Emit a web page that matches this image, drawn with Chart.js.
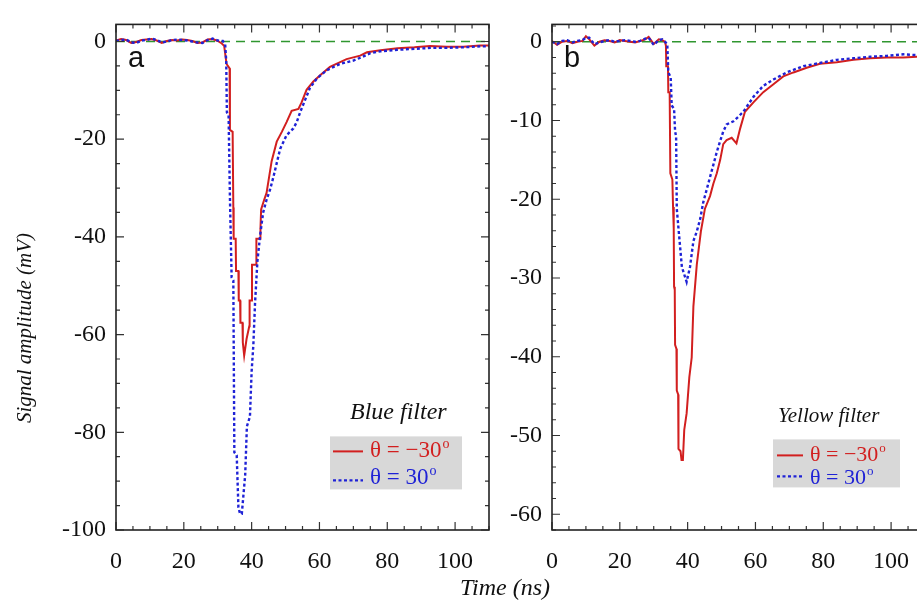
<!DOCTYPE html>
<html>
<head>
<meta charset="utf-8">
<script src="https://cdn.jsdelivr.net/npm/chart.js@4.4.1/dist/chart.umd.min.js"></script>
<style>
  body { margin: 0; width: 917px; height: 604px; overflow: hidden; background: #fff; position: relative; }
  .panel { position: absolute; top: 0; height: 604px; }
  #xTitle { position: absolute; left: 405px; top: 574px; width: 200px; text-align: center;
            font: italic 24px "Liberation Serif", "Times New Roman", serif; color: #111; }
</style>
</head>
<body>
<div class="panel" style="left:0;width:500px"><canvas id="chartA"></canvas></div>
<div class="panel" style="left:500px;width:440px"><canvas id="chartB"></canvas></div>
<div id="xTitle">Time (ns)</div>
<script>
// ---- data ----
const timeTicks = [0, 20, 40, 60, 80, 100];
const ampTicksA = [0, -20, -40, -60, -80, -100];
const ampTicksB = [0, -10, -20, -30, -40, -50, -60];
const seriesNames = ['θ = −30', 'θ = 30'];
const zeroT = [0, 110];
const zeroV = [0, 0];

// panel a, blue filter, theta = -30
const aRedT = [0,1.5,3,4.5,6,7.5,9,10.5,12,13.5,15,16.5,18,19.5,21,22.5,24,25.5,27,28.5,30,
  31.2,31.9,32.6,33.5,33.6,34.4,34.6,34.7,35.3,35.4,36.1,36.2,36.6,36.7,37.3,37.4,37.8,
  38.5,39.3,39.4,40,40.1,41.3,41.4,42.5,42.6,42.8,43.7,44.4,
  45.9,47.4,48.9,50.3,51.8,53.8,54.7,56.2,58.2,60.2,63.1,68,72,74,78,83,88,92.6,97.5,102.4,107.4,110];
const aRedV = [0.2,0.5,0.3,-0.3,-0.1,0.3,0.4,0.5,0.2,-0.3,0.1,0.3,0.2,0.4,0.3,0.1,-0.3,-0.2,0.4,0.5,0.1,
  -0.4,-0.9,-4.6,-5.5,-18.1,-18.5,-34,-40.4,-40.4,-47,-47,-53,-53,-57.6,-57.6,-61.6,-64.3,
  -60.9,-58.3,-53,-53,-45.7,-45.7,-40.4,-40.4,-38.4,-34.4,-32.4,-31,
  -24.5,-20.5,-18.5,-16.5,-14.2,-13.8,-12.5,-9.9,-8.2,-6.9,-5.2,-3.6,-2.9,-2.2,-1.8,-1.4,-1.2,-0.9,-1.1,-1.1,-0.8,-0.8];

// panel a, blue filter, theta = 30
const aBlueT = [0,1.5,3,4.5,6,7.5,9,10.5,12,13.5,15,16.5,18,19.5,21,22.5,24,25.5,27,28.5,30,
  31.5,32.2,32.5,32.7,33.2,33.6,34.1,34.6,34.9,35.6,
  36.1,36.6,37.1,38.1,38.6,39.5,40,40.5,41,41.7,
  42.5,43.4,44.4,45.4,46.4,48.4,50.3,52.3,53.3,54.3,
  55.8,57.2,59.2,62.1,66,70,72.5,75,78,83,
  88,93,97.5,102,107.4,110];
const aBlueV = [0.1,0.3,0.4,-0.2,-0.3,0.2,0.3,0.6,0.3,-0.2,0,0.3,0.4,0.3,0.2,0,-0.2,-0.3,0.3,0.6,0.2,
  0.1,-0.6,-3.9,-14.5,-15,-32,-48.3,-48.9,-84.1,-84.7,
  -95.4,-96.7,-96.7,-88.7,-78.8,-76.8,-67.5,-62.2,-53.6,-45,
  -39.7,-35,-32.4,-30.4,-27.8,-22,-19.2,-17.8,-16.5,-14.5,
  -11.9,-9.5,-7.6,-5.9,-4.6,-3.9,-3.2,-2.4,-2,-1.7,
  -1.5,-1.3,-1.3,-1.2,-1,-1];

// panel b, yellow filter, theta = -30
const bRedT = [0,1.5,3,4.5,6,7.5,9,10,11,12.5,14,15.5,17,18.5,20,21.5,23,24.5,26,27.5,28.5,30,31.5,32.5,
  33.3,33.6,33.7,34.2,34.3,34.7,34.9,35.5,35.7,35.9,
  36,36.2,36.3,36.7,36.8,37.2,37.3,37.9,38.2,38.6,
  39,39.7,40.5,41.2,41.7,42.7,43.9,45.1,46.6,47.6,
  48.6,49.6,50.5,51.5,53,54.4,55.5,56.9,59.4,62.3,
  65.3,68.2,71.2,75.1,79,84,88.9,93.8,98.7,103.6,107.6,110];
const bRedV = [0.1,-0.4,0,0.1,-0.2,0,0.1,0.7,0.3,-0.5,0,0.2,0.1,-0.1,0.2,0.1,0,-0.1,0.1,0.3,0.6,-0.3,0.3,0.2,
  0,-0.5,-3.1,-3.1,-6.4,-6.4,-16.7,-17.5,-21,-23.7,
  -31.1,-31.5,-38.5,-39,-44.3,-44.8,-51.7,-52,-53.1,-53.1,
  -49.3,-47.2,-42.6,-40.1,-33.6,-28.3,-24.1,-21.2,-19.6,-18,
  -16.7,-15,-13,-12.5,-12.2,-12.9,-11,-8.9,-7.7,-6.4,
  -5.4,-4.4,-3.9,-3.3,-2.8,-2.6,-2.3,-2.1,-2,-2,-1.9,-1.9];

// panel b, yellow filter, theta = 30
const bBlueT = [0,1.5,3,4.5,6,7.5,9,10,11,12.5,14,15.5,17,18.5,20,21.5,23,24.5,26,27.5,28.5,30,31.5,32.5,
  33.3,34,34.3,35,35.3,36,36.3,36.6,36.8,37.3,
  38.3,39.7,40.7,41.7,42.7,43.7,44.6,46.1,47.6,48.6,
  49.6,50.5,51.5,53.5,55,56.4,59.4,62.3,65.3,69.2,
  74.1,79,84,88.9,93.8,98.7,103.6,107.6,110];
const bBlueV = [0,-0.3,0.1,0.2,-0.1,0.1,0.2,0.5,0.5,-0.3,-0.1,0.1,0.2,0,0.1,0.2,0.1,0,0.1,0.4,0.5,-0.4,0.2,0.3,
  0,-0.3,-3.9,-4.5,-8.1,-8.5,-11.4,-12,-21.2,-23.7,
  -28.6,-30.5,-28.6,-25.3,-24.1,-22.5,-20.4,-18,-15.6,-14,
  -12.6,-11.4,-10.5,-10.1,-9.5,-8.9,-7,-5.6,-4.8,-3.9,
  -3.1,-2.7,-2.3,-2.1,-1.9,-1.8,-1.6,-1.7,-1.7];

const serif = '"Liberation Serif", "Times New Roman", serif';
const redColor = '#d21f1f';
const blueColor = '#1f22d6';

function toPoints(ts, vs) {
    return ts.map((t, i) => ({ x: t, y: vs[i] }));
}

// frame with inward ticks on four sides, panel letter, filter name and legend box
const panelPlugin = {
    id: 'panel',
    afterDraw(chart, args, o) {
        const ctx = chart.ctx;
        const a = chart.chartArea;
        const x = chart.scales.x;
        const y = chart.scales.y;
        ctx.save();
        ctx.strokeStyle = '#333';
        ctx.lineWidth = 1.2;
        ctx.beginPath();
        for (let t = 0; t <= x.max + 0.001; t += o.xMinor) {
            const px = x.getPixelForValue(t);
            const len = t % o.xMajor === 0 ? 8 : 4;
            ctx.moveTo(px, a.bottom); ctx.lineTo(px, a.bottom - len);
            ctx.moveTo(px, a.top); ctx.lineTo(px, a.top + len);
        }
        for (let v = Math.ceil(y.min / o.yMinor) * o.yMinor; v <= y.max; v += o.yMinor) {
            const py = y.getPixelForValue(v);
            const len = v % o.yMajor === 0 ? 8 : 4;
            ctx.moveTo(a.left, py); ctx.lineTo(a.left + len, py);
            ctx.moveTo(a.right, py); ctx.lineTo(a.right - len, py);
        }
        ctx.stroke();
        ctx.strokeStyle = '#222';
        ctx.lineWidth = 1.6;
        ctx.strokeRect(a.left, a.top, a.right - a.left, a.bottom - a.top);

        // panel letter
        ctx.fillStyle = '#111';
        ctx.textBaseline = 'alphabetic';
        ctx.font = '29px "Liberation Sans", Arial, sans-serif';
        ctx.fillText(o.letter, a.left + 12, a.top + 43);

        // filter name
        ctx.font = 'italic ' + o.filterSize + 'px ' + serif;
        ctx.fillText(o.filter, a.left + o.filterAt[0], a.top + o.filterAt[1]);

        // legend box: red row first, then blue
        const L = o.legend;
        ctx.fillStyle = '#d8d8d8';
        ctx.fillRect(a.left + L.box[0], a.top + L.box[1], L.box[2], L.box[3]);
        chart.data.datasets.slice(0, 2).forEach((ds, i) => {
            const ly = a.top + L.lineY[i];
            ctx.beginPath();
            ctx.strokeStyle = ds.borderColor;
            ctx.lineWidth = ds.borderWidth;
            ctx.setLineDash(ds.borderDash || []);
            ctx.moveTo(a.left + L.lineX[0], ly);
            ctx.lineTo(a.left + L.lineX[1], ly);
            ctx.stroke();
            ctx.setLineDash([]);
            const tx = a.left + L.textX;
            const ty = a.top + L.textY[i];
            ctx.fillStyle = ds.borderColor;
            ctx.font = L.size + 'px ' + serif;
            ctx.fillText(ds.label, tx, ty);
            const w = ctx.measureText(ds.label).width;
            ctx.font = Math.round(L.size * 0.6) + 'px ' + serif;
            ctx.fillText('o', tx + w + 1, ty - L.size * 0.42);
        });

        // y axis title (left panel only)
        if (o.yTitle) {
            ctx.save();
            ctx.translate(o.yTitle.x, o.yTitle.y);
            ctx.rotate(-Math.PI / 2);
            ctx.fillStyle = '#111';
            ctx.font = 'italic 21px ' + serif;
            ctx.textAlign = 'center';
            ctx.textBaseline = 'middle';
            ctx.fillText(o.yTitle.text, 0, 0);
            ctx.restore();
        }
        ctx.restore();
    }
};

function makeChart(id, cfg) {
    const ctx = document.getElementById(id).getContext('2d');
    return new Chart(ctx, {
        type: 'line',
        data: {
            datasets: [
                {
                    label: seriesNames[0],
                    data: toPoints(cfg.redT, cfg.redV),
                    borderColor: redColor,
                    borderWidth: 2,
                    pointRadius: 0,
                    tension: 0,
                    order: 1
                },
                {
                    label: seriesNames[1],
                    data: toPoints(cfg.blueT, cfg.blueV),
                    borderColor: blueColor,
                    borderWidth: 2.4,
                    borderDash: [3, 2.5],
                    pointRadius: 0,
                    tension: 0,
                    order: 0
                },
                {
                    label: 'zero',
                    data: toPoints(zeroT, zeroV),
                    borderColor: '#2f962f',
                    borderWidth: 1.4,
                    borderDash: [9, 6],
                    pointRadius: 0,
                    order: 2
                }
            ]
        },
        options: {
            responsive: true,
            maintainAspectRatio: false,
            animation: false,
            layout: { padding: { top: 10, right: cfg.padRight, left: 0, bottom: 0 } },
            plugins: {
                legend: { display: false },
                tooltip: { enabled: false },
                panel: cfg.panel
            },
            scales: {
                x: {
                    type: 'linear',
                    min: 0,
                    max: 110,
                    grid: { display: false, drawTicks: false },
                    border: { display: false },
                    afterBuildTicks: (scale) => { scale.ticks = timeTicks.map(v => ({ value: v })); },
                    afterFit: (scale) => { scale.height = 74; },
                    ticks: { color: '#111', padding: 17, font: { family: serif, size: 24 }, maxRotation: 0 }
                },
                y: {
                    type: 'linear',
                    min: cfg.yMin,
                    max: cfg.yMax,
                    grid: { display: false, drawTicks: false },
                    border: { display: false },
                    afterBuildTicks: (scale) => { scale.ticks = cfg.yTicks.map(v => ({ value: v })); },
                    afterFit: (scale) => { scale.width = cfg.yWidth; },
                    ticks: { color: '#111', padding: 10, font: { family: serif, size: 24 } }
                }
            }
        },
        plugins: [panelPlugin]
    });
}

makeChart('chartA', {
    redT: aRedT, redV: aRedV, blueT: aBlueT, blueV: aBlueV,
    yMin: -100, yMax: 3.5, yTicks: ampTicksA, yWidth: 116, padRight: 11,
    panel: {
        letter: 'a', filter: 'Blue filter', filterSize: 24, filterAt: [234, 395],
        xMajor: 20, xMinor: 5, yMajor: 20, yMinor: 5,
        legend: { box: [214, 412, 132, 53], lineX: [217, 247], lineY: [427, 456], textX: 254, textY: [433, 460], size: 23 },
        yTitle: { text: 'Signal amplitude (mV)', x: 25, y: 328 }
    }
});

makeChart('chartB', {
    redT: bRedT, redV: bRedV, blueT: bBlueT, blueV: bBlueV,
    yMin: -62, yMax: 2.2, yTicks: ampTicksB, yWidth: 52, padRight: 15,
    panel: {
        letter: 'b', filter: 'Yellow filter', filterSize: 21, filterAt: [226, 398],
        xMajor: 20, xMinor: 5, yMajor: 10, yMinor: 2,
        legend: { box: [221, 415, 127, 48], lineX: [225, 251], lineY: [431, 452], textX: 258, textY: [437, 460], size: 22 }
    }
});
</script>
</body>
</html>
